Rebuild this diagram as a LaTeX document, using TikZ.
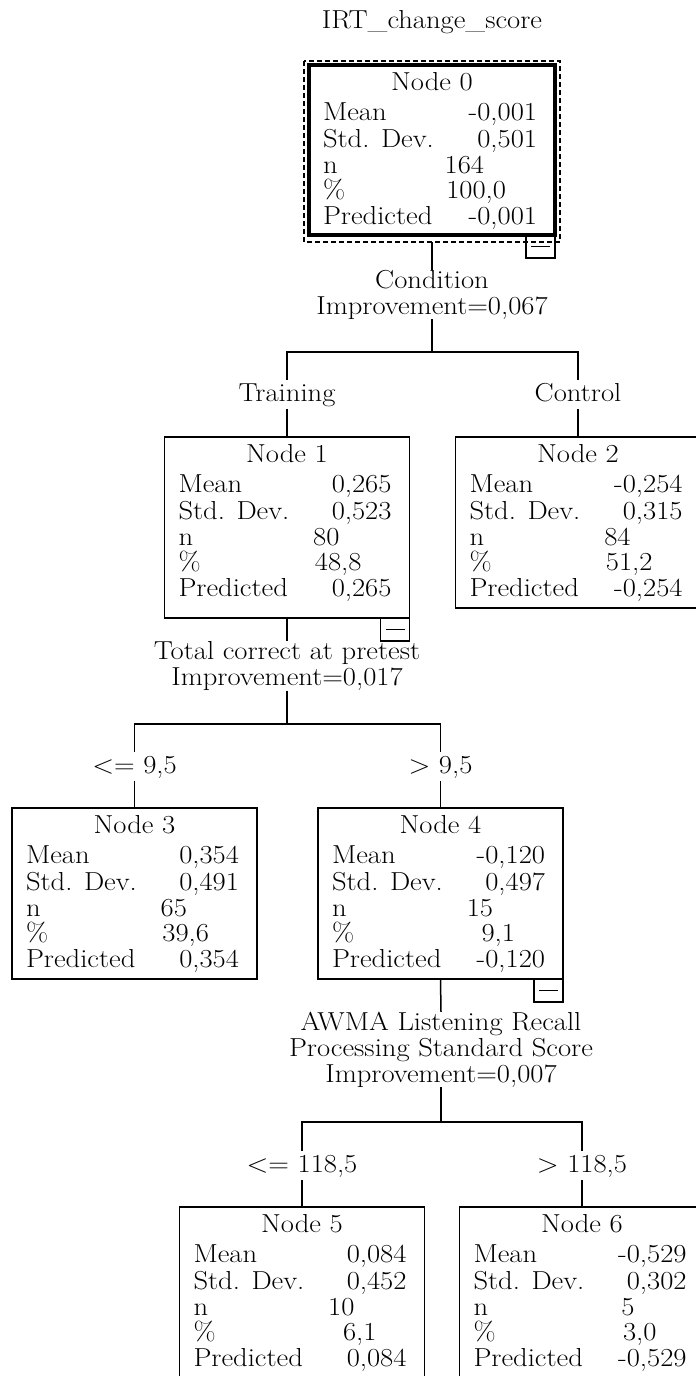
\documentclass[tikz,border=0pt]{standalone}
\usepackage{fontspec}
\setmainfont{Latin Modern Roman}[FakeStretch=1.1]
\usetikzlibrary{calc}
\newcommand{\boxrows}[6]{%
  \node[anchor=base] (#1t) at ([yshift=-25pt]#1.north) {Node #2};
  \node[rowlab] (#1ml) at ([shift={(14pt,-55pt)}]#1.north west) {Mean};
  \node[rowval] (#1mv) at ([shift={(-18pt,-55pt)}]#1.north east) {#3};
  \node[rowlab] (#1sl) at ([shift={(14pt,-82pt)}]#1.north west) {Std. Dev.};
  \node[rowval] (#1sv) at ([shift={(-18pt,-82pt)}]#1.north east) {#4};
  \node[rowlab] (#1nl) at ([shift={(14pt,-108pt)}]#1.north west) {n};
  \node[rowval] (#1nv) at ([shift={(175pt,-108pt)}]#1.north west) {#5};
  \node[rowlab] (#1pl) at ([shift={(14pt,-133pt)}]#1.north west) {\%};
  \node[rowval] (#1pv) at ([shift={(197pt,-133pt)}]#1.north west) {#6};
  \node[rowlab] (#1dl) at ([shift={(14pt,-159pt)}]#1.north west) {Predicted};
  \node[rowval] (#1dv) at ([shift={(-18pt,-159pt)}]#1.north east) {#3};
}
\begin{document}
\begin{tikzpicture}[x=1pt,y=1pt,
  every node/.style={font=\fontsize{26}{26}\selectfont, inner sep=0pt, outer sep=0pt},
  statbox/.style={draw, line width=1.5pt, minimum width=245pt, minimum height=171pt, anchor=north west},
  rootbox/.style={draw, line width=3.5pt, minimum width=246pt, minimum height=170pt, anchor=north west},
  dashedoutline/.style={line width=1.2pt, dash pattern=on 5pt off 3pt},
  collapse/.style={draw, line width=1.5pt, minimum width=29pt, minimum height=23pt, anchor=north east,
    path picture={\draw[line width=1.5pt] ([xshift=5pt]path picture bounding box.west) -- ([xshift=-5pt]path picture bounding box.east);}},
  branch/.style={text height=18pt, text depth=5pt, inner ysep=3pt, anchor=base},
  splittext/.style={align=center, anchor=center},
  conn/.style={line width=1.5pt},
  rowlab/.style={anchor=base west},
  rowval/.style={anchor=base east}]
\useasboundingbox (0,0) rectangle (696,-1376);
\clip (0,0) rectangle (696,-1376);

% title
\node[anchor=base] (title) at (432,-28) {IRT\_change\_score};

% boxes
\node[rootbox] (n0) at (309,-65) {};
\draw[dashedoutline] ([shift={(-5,4)}]n0.north west) rectangle ([shift={(5,-7)}]n0.south east);
\coordinate (n0b) at ([yshift=-7pt]n0.south);
\node[collapse] (i0) at (n0.south east) {};

\node[statbox, minimum height=181pt] (n1) at (164.5,-437) {};
\node[collapse] (i1) at (n1.south east) {};
\node[statbox] (n2) at (455.5,-437) {};
\node[statbox] (n3) at (12,-808) {};
\node[statbox] (n4) at (318,-808) {};
\node[collapse] (i4) at (n4.south east) {};
\node[statbox] (n5) at (179.5,-1207) {};
\node[statbox] (n6) at (459.5,-1207) {};

\boxrows{n0}{0}{-0,001}{0,501}{164}{100,0}
\boxrows{n1}{1}{0,265}{0,523}{80}{48,8}
\boxrows{n2}{2}{-0,254}{0,315}{84}{51,2}
\boxrows{n3}{3}{0,354}{0,491}{65}{39,6}
\boxrows{n4}{4}{-0,120}{0,497}{15}{9,1}
\boxrows{n5}{5}{0,084}{0,452}{10}{6,1}
\boxrows{n6}{6}{-0,529}{0,302}{5}{3,0}

% split texts
\node[splittext] (s0) at (432,-294.5) {Condition\\Improvement=0,067};
\node[splittext] (s1) at (287,-666) {Total correct at pretest\\Improvement=0,017};
\node[splittext] (s4) at (441,-1049.5) {AWMA Listening Recall\\Processing Standard Score\\Improvement=0,007};

% junctions
\coordinate (h0) at (432,-352);
\coordinate (h1) at (287,-724);
\coordinate (h4) at (441,-1122);

% branch labels
\node[branch] (l1) at (287,-401) {Training};
\node[branch] (l2) at (578,-401) {Control};
\node[branch] (l3) at (134.5,-773) {<= 9,5};
\node[branch] (l4) at (440.5,-773) {> 9,5};
\node[branch] (l5) at (302,-1172) {<= 118,5};
\node[branch] (l6) at (582,-1172) {> 118,5};

% connectors
\draw[conn] (n0b) -- (s0.north);
\draw[conn] (s0.south) -- (h0);
\draw[conn] (l1.north) |- (h0) -| (l2.north);
\draw[conn] (l1.south) -- (n1.north);
\draw[conn] (l2.south) -- (n2.north);

\draw[conn] (n1.south) -- (s1.north);
\draw[conn] (s1.south) -- (h1);
\draw[conn] (l3.north) |- (h1) -| (l4.north);
\draw[conn] (l3.south) -- (n3.north);
\draw[conn] (l4.south) -- (n4.north);

\draw[conn] (n4.south) -- (s4.north);
\draw[conn] (s4.south) -- (h4);
\draw[conn] (l5.north) |- (h4) -| (l6.north);
\draw[conn] (l5.south) -- (n5.north);
\draw[conn] (l6.south) -- (n6.north);
\end{tikzpicture}
\end{document}
